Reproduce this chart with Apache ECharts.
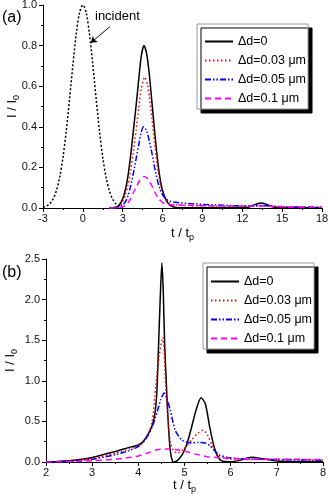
<!DOCTYPE html>
<html>
<head>
<meta charset="utf-8">
<script src="https://cdn.jsdelivr.net/npm/echarts@6/dist/echarts.min.js"></script>
<style>
  html, body { margin: 0; padding: 0; background: #fff; }
  #main { width: 328px; height: 504px; }
</style>
</head>
<body>
<div id="main"></div>
<script>
// series names, shared by both panels
var names = ['Δd=0', 'Δd=0.03 μm', 'Δd=0.05 μm', 'Δd=0.1 μm'];

// tick settings
var ticksA = { xMin: -3, xMax: 18, xStep: 3, yMin: 0, yMax: 1, yStep: 0.2 };
var ticksB = { xMin: 2, xMax: 8, xStep: 1, yMin: 0, yMax: 2.5, yStep: 0.5 };

// panel (a) : [t/tp, I/I0]
var incidentA = [[-3,0.004],[-2.75,0.009],[-2.5,0.02],[-2.25,0.043],[-2,0.084],[-1.75,0.15],[-1.5,0.248],
  [-1.25,0.38],[-1,0.538],[-0.75,0.705],[-0.5,0.856],[-0.25,0.962],[0,1],[0.25,0.962],[0.5,0.856],
  [0.75,0.705],[1,0.538],[1.25,0.38],[1.5,0.248],[1.75,0.15],[2,0.084],[2.25,0.043],[2.5,0.02],
  [2.75,0.009],[3,0.004]];
var d0A = [[2,0],[2.4,0.002],[2.7,0.012],[3,0.045],[3.2,0.09],[3.4,0.16],[3.6,0.26],[3.8,0.38],[4,0.5],
  [4.2,0.63],[4.4,0.75],[4.6,0.8],[4.8,0.76],[5,0.66],[5.2,0.52],[5.4,0.38],[5.6,0.25],[5.8,0.15],
  [6,0.085],[6.3,0.035],[6.6,0.012],[7,0.003],[8,0.001],[12,0.001],[12.5,0.005],[13,0.018],[13.4,0.025],
  [13.8,0.019],[14.2,0.007],[14.8,0.001],[18,0.001]];
var d003A = [[2,0],[2.5,0.003],[2.8,0.012],[3,0.03],[3.2,0.065],[3.4,0.115],[3.6,0.19],[3.8,0.28],[4,0.38],
  [4.2,0.49],[4.4,0.59],[4.65,0.645],[4.85,0.61],[5,0.55],[5.2,0.44],[5.4,0.32],[5.6,0.21],[5.8,0.13],
  [6,0.075],[6.3,0.035],[6.6,0.02],[7,0.015],[8,0.012],[10,0.01],[12,0.008],[13,0.01],[13.5,0.012],
  [14,0.009],[15,0.005],[18,0.003]];
var d005A = [[2,0],[2.6,0.003],[3,0.015],[3.2,0.03],[3.4,0.06],[3.6,0.11],[3.8,0.17],[4,0.24],[4.2,0.31],
  [4.4,0.375],[4.57,0.4],[4.8,0.38],[5,0.33],[5.2,0.27],[5.4,0.2],[5.6,0.14],[5.8,0.095],[6,0.065],
  [6.3,0.042],[6.6,0.033],[7,0.028],[8,0.022],[9,0.018],[10,0.015],[11,0.012],[12,0.011],[13,0.012],
  [13.5,0.013],[14,0.01],[15,0.007],[16,0.005],[18,0.004]];
var d01A = [[2,0],[2.8,0.002],[3.2,0.012],[3.5,0.035],[3.8,0.075],[4,0.1],[4.3,0.138],[4.6,0.155],
  [4.9,0.142],[5.2,0.108],[5.4,0.08],[5.7,0.046],[6,0.027],[6.4,0.018],[7,0.015],[8,0.013],[10,0.01],
  [12,0.009],[13.5,0.01],[15,0.006],[18,0.004]];

// panel (b)
var d0B = [[2,0],[2.5,0.015],[3,0.055],[3.5,0.13],[3.8,0.18],[4,0.21],[4.1,0.25],[4.2,0.33],[4.3,0.45],
  [4.36,0.6],[4.4,0.85],[4.43,1.3],[4.47,1.95],[4.51,2.45],[4.54,2.1],[4.57,1.45],[4.6,1.05],[4.64,0.56],
  [4.69,0.15],[4.74,0.01],[4.78,0],[4.85,0.02],[4.95,0.09],[5.05,0.22],[5.15,0.42],[5.25,0.64],[5.36,0.79],
  [5.45,0.72],[5.55,0.42],[5.65,0.17],[5.75,0.04],[5.85,0.005],[6,0.003],[6.2,0.02],[6.45,0.058],
  [6.7,0.04],[7,0.012],[7.5,0.005],[8,0.003]];
var d003B = [[2,0],[2.5,0.012],[3,0.045],[3.5,0.11],[3.8,0.16],[4,0.2],[4.1,0.24],[4.2,0.32],[4.3,0.5],
  [4.38,0.95],[4.45,1.3],[4.53,1.535],[4.56,1.35],[4.59,0.97],[4.64,0.56],[4.69,0.25],[4.76,0.14],
  [4.85,0.11],[5,0.17],[5.15,0.27],[5.3,0.36],[5.4,0.39],[5.5,0.33],[5.6,0.2],[5.7,0.1],[5.85,0.05],
  [6,0.035],[6.5,0.03],[7,0.03],[7.5,0.03],[8,0.025]];
var d005B = [[2,0],[2.5,0.008],[3,0.035],[3.5,0.09],[3.8,0.14],[4,0.19],[4.1,0.24],[4.2,0.32],[4.3,0.43],
  [4.4,0.6],[4.48,0.76],[4.56,0.85],[4.62,0.78],[4.69,0.64],[4.8,0.39],[4.94,0.27],[5.05,0.245],
  [5.15,0.235],[5.3,0.24],[5.45,0.235],[5.55,0.2],[5.65,0.14],[5.75,0.09],[5.9,0.06],[6.1,0.045],
  [6.5,0.035],[7,0.03],[7.5,0.025],[8,0.02]];
var d01B = [[2,0],[2.5,0.004],[3,0.015],[3.5,0.035],[3.8,0.055],[4,0.075],[4.2,0.11],[4.4,0.15],
  [4.65,0.16],[4.9,0.145],[5.1,0.12],[5.3,0.09],[5.5,0.065],[5.8,0.05],[6.2,0.04],[7,0.035],[8,0.03]];

// arrow for the "incident" note, in data units of panel (a)
var arrowA = [[2.03, 0.893], [0.6, 0.814]];

var FONT = 'Liberation Sans, Arial, sans-serif';
var styles = [
  { color: '#000000', type: 'solid' },
  { color: '#ff0000', type: [1.5, 2.5] },
  { color: '#0000ff', type: [6, 2, 1.5, 2, 1.5, 2] },
  { color: '#ff00ff', type: [6, 4] }
];

function mkX(t, gi, gap) {
  return {
    type: 'value', gridIndex: gi, min: t.xMin, max: t.xMax, interval: t.xStep,
    name: 't / t{s|p}', nameLocation: 'middle', nameGap: gap,
    nameTextStyle: { fontFamily: FONT, fontSize: 13, color: '#000',
      rich: { s: { fontSize: 9, fontFamily: FONT, color: '#000', padding: [9, 0, 0, 0] } } },
    axisLine: { onZero: false, lineStyle: { color: '#000', width: 1 } },
    axisTick: { inside: false, length: 4, lineStyle: { color: '#000' } },
    minorTick: { show: true, splitNumber: 2, length: 2, lineStyle: { color: '#000' } },
    splitLine: { show: false },
    axisLabel: { fontFamily: FONT, fontSize: 11, color: '#111', margin: 5 }
  };
}
function mkY(t, gi, gap) {
  return {
    type: 'value', gridIndex: gi, min: t.yMin, max: t.yMax, interval: t.yStep,
    name: 'I / I{s|0}', nameLocation: 'middle', nameGap: gap, nameMoveOverlap: false,
    nameTextStyle: { fontFamily: FONT, fontSize: 13, color: '#000',
      rich: { s: { fontSize: 9, fontFamily: FONT, color: '#000', padding: [9, 0, 0, 0] } } },
    axisLine: { show: true, onZero: false, lineStyle: { color: '#000', width: 1 } },
    axisTick: { show: true, inside: false, length: 4, lineStyle: { color: '#000' } },
    minorTick: { show: true, splitNumber: 2, length: 2, lineStyle: { color: '#000' } },
    splitLine: { show: false },
    axisLabel: { fontFamily: FONT, fontSize: 11, color: '#111', margin: 6,
      formatter: function (v) { return v.toFixed(1); } }
  };
}
function mkLine(name, data, k, gi) {
  return {
    name: name, type: 'line', xAxisIndex: gi, yAxisIndex: gi, data: data,
    showSymbol: false, symbol: 'none', smooth: 0.25,
    lineStyle: { color: styles[k].color, width: 1.5, type: styles[k].type },
    itemStyle: { color: styles[k].color }
  };
}
function mkLegend(left, top, padTop) {
  return {
    data: names, orient: 'vertical', left: left, top: top,
    itemWidth: 28, itemHeight: 10, itemGap: 6,
    padding: [padTop, 2, 4, 7],
    backgroundColor: '#fff', borderColor: '#999', borderWidth: 1,
    shadowColor: '#000', shadowBlur: 0, shadowOffsetX: 4, shadowOffsetY: 4,
    itemStyle: { opacity: 0 },
    textStyle: { fontFamily: FONT, fontSize: 12.5, color: '#000' },
    selectedMode: false
  };
}

var dataA = [d0A, d003A, d005A, d01A];
var dataB = [d0B, d003B, d005B, d01B];
var series = [];
series.push({
  name: 'incident', type: 'line', xAxisIndex: 0, yAxisIndex: 0, data: incidentA,
  showSymbol: false, symbol: 'none', smooth: 0.3,
  lineStyle: { color: '#000', width: 1.5, type: [2, 2] },
  markLine: {
    silent: true, symbol: ['none', 'arrow'], symbolSize: 6,
    lineStyle: { color: '#000', width: 1, type: 'solid' },
    label: { show: false },
    data: [[{ coord: arrowA[0] }, { coord: arrowA[1] }]]
  }
});
for (var i = 0; i < 4; i++) series.push(mkLine(names[i], dataA[i], i, 0));
for (var j = 0; j < 4; j++) series.push(mkLine(names[j], dataB[j], j, 1));

var chart = echarts.init(document.getElementById('main'), null, { renderer: 'canvas' });
chart.setOption({
  animation: false,
  backgroundColor: '#fff',
  grid: [
    { left: 43, right: 6, top: 5, bottom: 296, outerBoundsMode: 'none', containLabel: false },
    { left: 46, right: 5, top: 259, bottom: 42, outerBoundsMode: 'none', containLabel: false }
  ],
  xAxis: [mkX(ticksA, 0, 16), mkX(ticksB, 1, 14)],
  yAxis: [mkY(ticksA, 0, 22), mkY(ticksB, 1, 27)],
  legend: [mkLegend(197, 24, 11), mkLegend(203, 263, 12)],
  graphic: [
    { type: 'text', left: 2, top: 10, style: { text: '(a)', font: '16px ' + FONT, fill: '#000' } },
    { type: 'text', left: 2, top: 265, style: { text: '(b)', font: '16px ' + FONT, fill: '#000' } },
    { type: 'text', left: 95, top: 10, style: { text: 'incident', font: '13px ' + FONT, fill: '#000' } }
  ],
  series: series
});
</script>
</body>
</html>
